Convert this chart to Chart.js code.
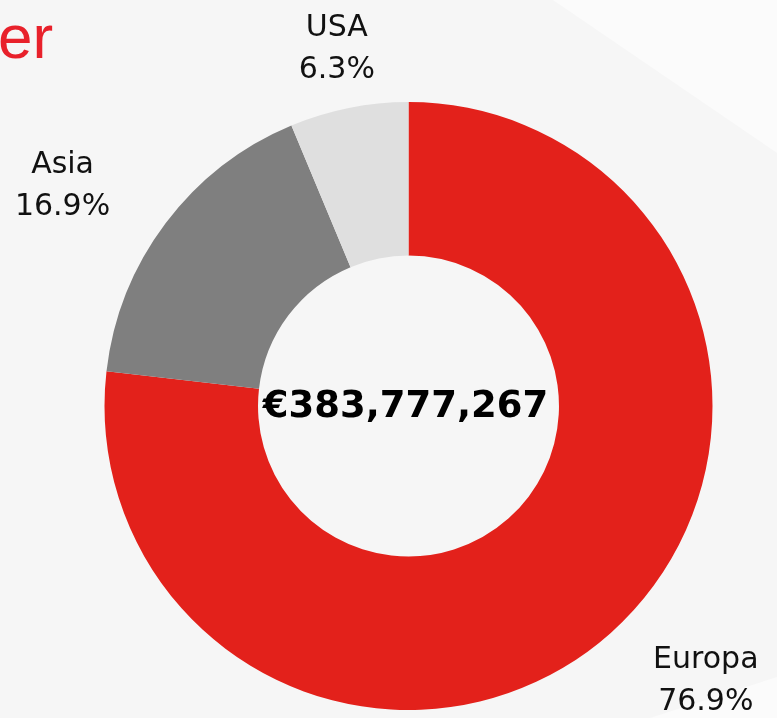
<!DOCTYPE html>
<html>
<head>
<meta charset="utf-8">
<script src="https://cdn.jsdelivr.net/npm/chart.js@4/dist/chart.umd.min.js"></script>
<style>
  html, body { margin: 0; padding: 0; }
  body { width: 777px; height: 718px; overflow: hidden; position: relative; background: #f6f6f6; }
  .shade { position: absolute; left: 0; top: 0; width: 777px; height: 718px; background: #fbfbfb; }
  #shadeTop { clip-path: polygon(553px 0, 777px 0, 777px 153px); }
  #shadeBottom { clip-path: polygon(650px 718px, 777px 677px, 777px 718px); }
  #wrap { position: absolute; left: 0; top: 0; width: 777px; height: 718px; }
</style>
</head>
<body>
<div class="shade" id="shadeTop"></div>
<div class="shade" id="shadeBottom"></div>
<div id="wrap"><canvas id="chartPie"></canvas></div>
<script>
// regions and their share of revenue (%)
const regions = ["Europa", "Asia", "USA"];
const shares = [76.9, 16.9, 6.3];
const totalRevenue = 383777267;
const titleText = "er";

const colors = ["#e3211b", "#7f7f7f", "#dfdfdf"];

// label nudges relative to the outer middle point of each slice
const labelNudge = [
  { x: 95, y: 35 },
  { x: -103, y: -50 },
  { x: -12, y: -72 },
];

const pieLabels = {
  id: "pieLabels",
  afterDraw(chart) {
    const ctx = chart.ctx;
    const meta = chart.getDatasetMeta(0);
    ctx.save();

    // cropped title in the corner
    ctx.fillStyle = "#e8212b";
    ctx.font = "62px 'Liberation Sans', Arial, sans-serif";
    ctx.textAlign = "left";
    ctx.textBaseline = "alphabetic";
    ctx.fillText(titleText, -2, 58);

    ctx.fillStyle = "#111111";
    ctx.font = "30px 'DejaVu Sans', Verdana, sans-serif";
    ctx.textAlign = "center";
    meta.data.forEach((arc, i) => {
      const p = arc.getProps(["x", "y", "startAngle", "endAngle", "outerRadius"], true);
      const mid = (p.startAngle + p.endAngle) / 2;
      const ox = p.x + Math.cos(mid) * p.outerRadius + labelNudge[i].x;
      const oy = p.y + Math.sin(mid) * p.outerRadius + labelNudge[i].y;
      ctx.fillText(regions[i], ox, oy);
      ctx.fillText(shares[i].toFixed(1) + "%", ox, oy + 42);
    });

    // total in the hole
    const a = meta.data[0];
    ctx.fillStyle = "#000000";
    ctx.font = "bold 37px 'DejaVu Sans', Verdana, sans-serif";
    ctx.fillText("€" + totalRevenue.toLocaleString("en-US"), a.x - 3, a.y + 11);
    ctx.restore();
  },
};

new Chart(document.getElementById("chartPie"), {
  type: "doughnut",
  data: {
    labels: regions,
    datasets: [
      {
        data: shares,
        backgroundColor: colors,
        borderWidth: 0,
        hoverOffset: 0,
      },
    ],
  },
  options: {
    responsive: true,
    maintainAspectRatio: false,
    animation: false,
    cutout: "49.5%",
    layout: { padding: { left: 104.5, right: 64.5, top: 102, bottom: 8 } },
    plugins: {
      legend: { display: false },
      tooltip: { enabled: false },
    },
  },
  plugins: [pieLabels],
});
</script>
</body>
</html>
